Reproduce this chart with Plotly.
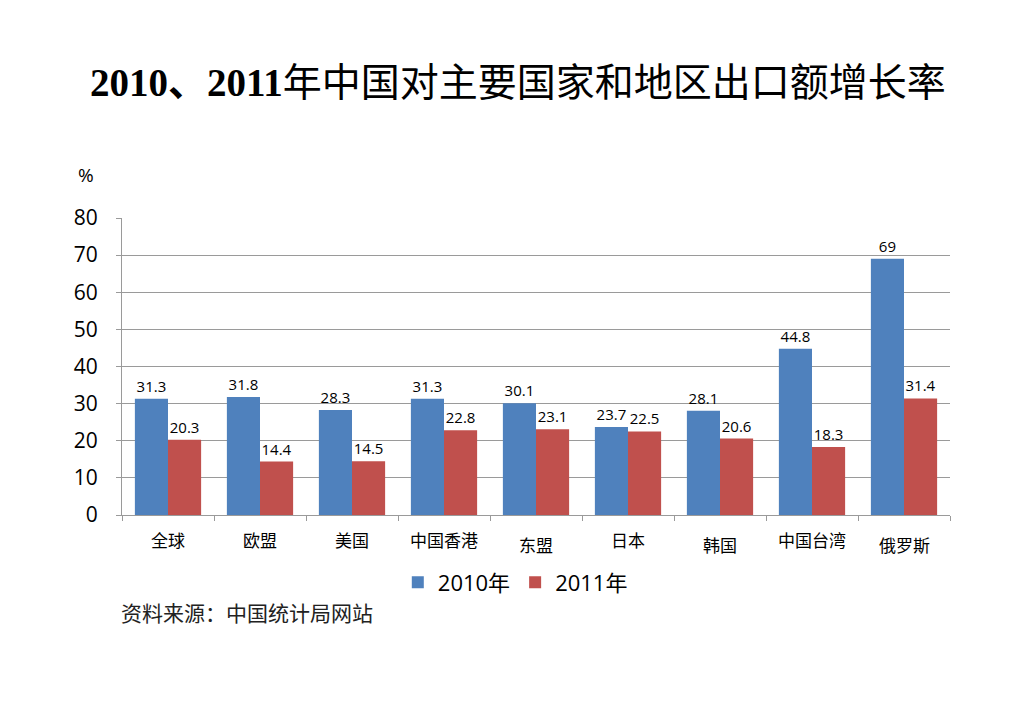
import plotly.graph_objects as go

# 数据：2010、2011年中国对主要国家和地区出口额增长率（%）
regions = ["全球", "欧盟", "美国", "中国香港", "东盟", "日本", "韩国", "中国台湾", "俄罗斯"]
growth_2010 = [31.3, 31.8, 28.3, 31.3, 30.1, 23.7, 28.1, 44.8, 69]
growth_2011 = [20.3, 14.4, 14.5, 22.8, 23.1, 22.5, 20.6, 18.3, 31.4]
y_ticks = [0, 10, 20, 30, 40, 50, 60, 70, 80]

num_font = "Open Sans, Noto Sans CJK SC, sans-serif"
cjk_font = "Noto Sans CJK SC, sans-serif"

fig = go.Figure()
fig.add_trace(go.Bar(
    x=regions, y=growth_2010, name="2010年",
    marker=dict(color="#4F81BD", line=dict(width=0)),
    text=[f"{v:g}" for v in growth_2010], textposition="outside",
    textfont=dict(size=15, color="black", family=num_font),
    cliponaxis=False,
))
fig.add_trace(go.Bar(
    x=regions, y=growth_2011, name="2011年",
    marker=dict(color="#C0504D", line=dict(width=0)),
    text=[f"{v:g}" for v in growth_2011], textposition="outside",
    textfont=dict(size=15, color="black", family=num_font),
    cliponaxis=False,
))

# 类别标签（原图中部分标签略微下移）
lowered = {"东盟", "韩国", "俄罗斯"}
annotations = []
for r in regions:
    annotations.append(dict(
        x=r, y=0, xref="x", yref="paper", text=r, showarrow=False,
        yanchor="middle", yshift=-29 if r in lowered else -24,
        font=dict(size=17, color="black", family=cjk_font),
    ))
annotations.append(dict(
    x=-0.043, y=1.145, xref="paper", yref="paper", text="%", showarrow=False,
    xanchor="center", yanchor="middle",
    font=dict(size=19, color="black", family=num_font),
))
annotations.append(dict(
    x=-0.004, y=-0.328, xref="paper", yref="paper", text="资料来源：中国统计局网站",
    showarrow=False, xanchor="left", yanchor="middle",
    font=dict(size=21, color="#222222", family=cjk_font),
))
annotations.append(dict(
    x=0.478, y=1.455, xref="paper", yref="paper",
    text="<b>2010、2011</b>年中国对主要国家和地区出口额增长率",
    showarrow=False, xanchor="center", yanchor="middle",
    font=dict(size=39, color="black", family="Liberation Serif, Noto Sans CJK SC, serif"),
))

fig.update_layout(
    width=1024, height=723,
    paper_bgcolor="white", plot_bgcolor="white",
    margin=dict(l=114, r=82, t=210, b=216),
    barmode="group", bargap=0.28, bargroupgap=0,
    showlegend=True,
    legend=dict(
        orientation="h", x=0.475, xanchor="center", y=-0.227, yanchor="middle",
        font=dict(size=22, color="black", family=num_font),
        traceorder="normal",
    ),
    annotations=annotations,
    xaxis=dict(
        showticklabels=False, showline=True, linecolor="#9A9A9A", linewidth=1,
        ticks="outside", tickson="boundaries", ticklen=5, tickcolor="#9A9A9A",
        showgrid=False,
    ),
    yaxis=dict(
        range=[0, 80], tickvals=y_ticks, showline=True, linecolor="#9A9A9A",
        linewidth=1, showgrid=True, gridcolor="#9A9A9A", gridwidth=1,
        ticks="outside", ticklen=5, tickcolor="#9A9A9A", ticklabelstandoff=14,
        tickfont=dict(size=21, color="black", family=num_font),
        zeroline=False,
    ),
)

fig.write_html("out.html")
